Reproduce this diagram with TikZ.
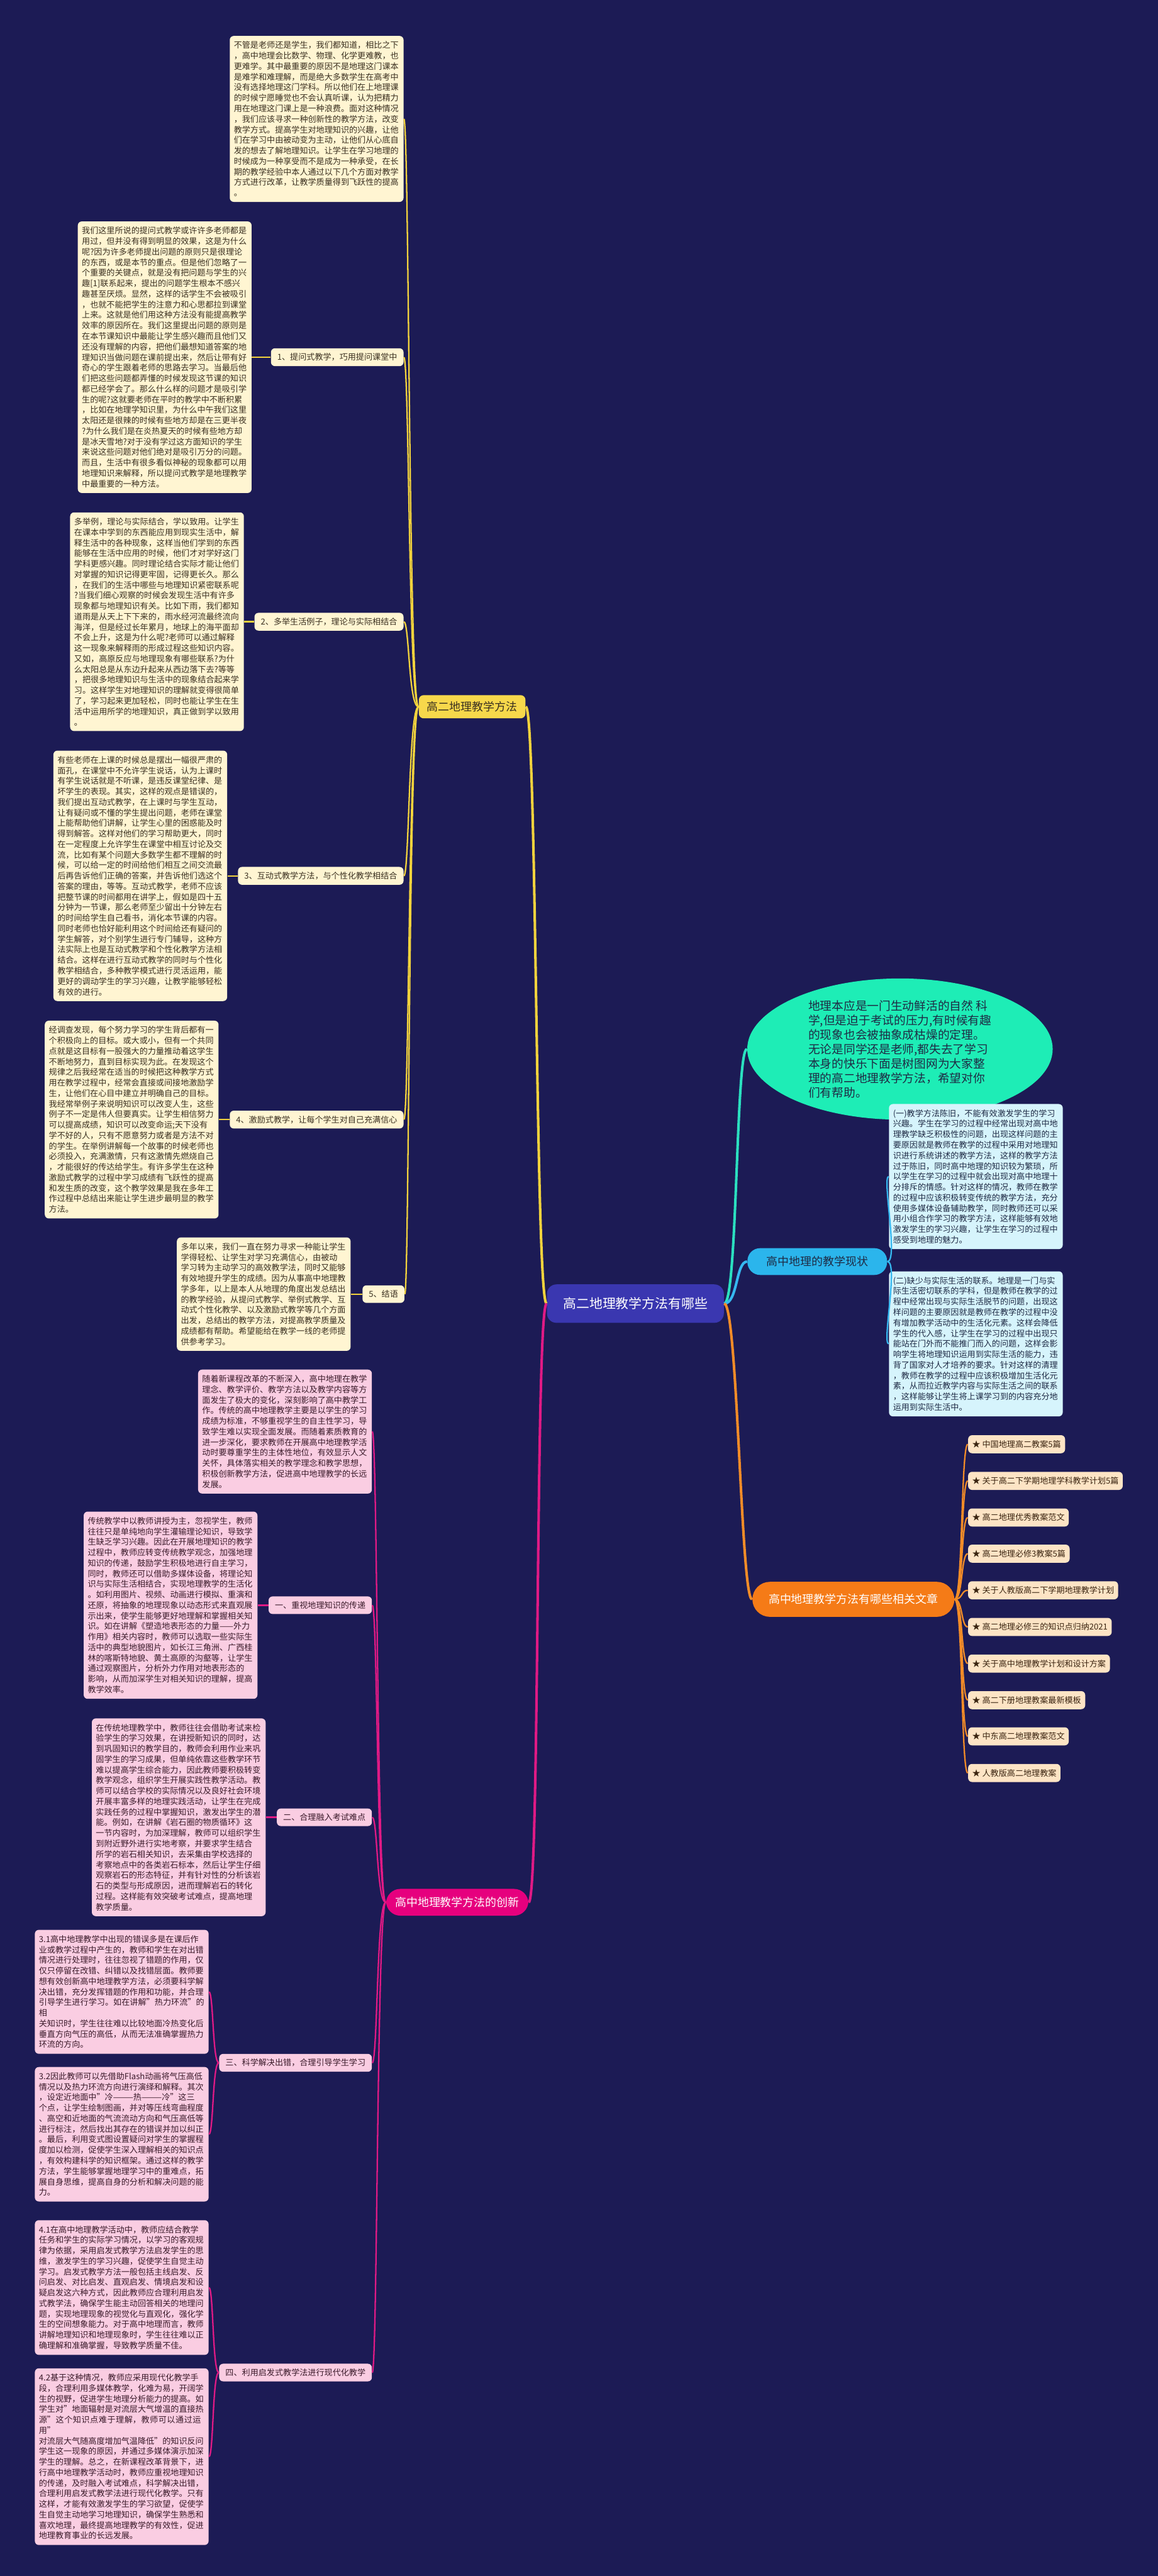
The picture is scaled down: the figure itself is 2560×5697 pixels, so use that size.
\documentclass[tikz,border=0pt]{standalone}
\usepackage{fontspec}
\setmainfont{Noto Sans CJK SC}
\usetikzlibrary{positioning, shapes.geometric}
\XeTeXlinebreaklocale "zh"
\XeTeXlinebreakskip = 0pt plus 1pt
\definecolor{bgNavy}{HTML}{1C1B55}
\definecolor{rootBlue}{HTML}{3A37B0}
\definecolor{yMain}{HTML}{F7D84B}
\definecolor{yLine}{HTML}{F2D33D}
\definecolor{yBox}{HTML}{FFF5D2}
\definecolor{yText}{HTML}{3A3020}
\definecolor{cMain}{HTML}{2BB5EC}
\definecolor{cLine}{HTML}{36B8F0}
\definecolor{cBox}{HTML}{D6F4FC}
\definecolor{cText}{HTML}{1E2A44}
\definecolor{gOval}{HTML}{1EEDB6}
\definecolor{gLine}{HTML}{2BE0C0}
\definecolor{oMain}{HTML}{F57B17}
\definecolor{oLine}{HTML}{F28C28}
\definecolor{oBox}{HTML}{FDE4C5}
\definecolor{oText}{HTML}{3A2410}
\definecolor{pMain}{HTML}{E6007E}
\definecolor{pLine}{HTML}{E01A85}
\definecolor{pBox}{HTML}{FACDE2}
\definecolor{pText}{HTML}{3A1A2A}
\newcommand{\txtfont}{\fontsize{5.18pt}{6.63pt}\selectfont}
\newcommand{\midfont}{\fontsize{7.1pt}{8.5pt}\selectfont}
\newcommand{\rootfont}{\fontsize{8.25pt}{9.9pt}\selectfont}
\newcommand{\ovalfont}{\fontsize{7.4pt}{9.1pt}\selectfont}

\begin{document}
\begin{tikzpicture}[x=0.01cm, y=-0.01cm,
    txtbox/.style={rounded corners=2.5pt, text width=3.66cm, inner xsep=0.09cm,
                   inner ysep=0.12cm, align=left, font=\txtfont},
    ybox/.style={txtbox, fill=yBox, text=yText},
    pbox/.style={txtbox, fill=pBox, text=pText},
    cbox/.style={txtbox, fill=cBox, text=cText},
    ylab/.style={rounded corners=2.5pt, fill=yBox, text=yText, font=\txtfont,
                 inner xsep=0.14cm, inner ysep=0.11cm},
    plab/.style={ylab, fill=pBox, text=pText},
    item/.style={rounded corners=2.5pt, fill=oBox, text=oText, font=\txtfont,
                 inner xsep=0.09cm, inner ysep=0.115cm},
    ylink/.style={draw=yLine, line width=0.9pt},
    plink/.style={draw=pLine, line width=0.9pt},
    clink/.style={draw=cLine, line width=0.9pt},
    olink/.style={draw=oLine, line width=0.9pt},
  ]
  \useasboundingbox (0,0) rectangle (2560,5697);
  \fill[bgNavy] (0,0) rectangle (2560,5697);

  % root
  \node[fill=rootBlue, text=white, font=\rootfont, rounded corners=6pt,
        inner xsep=0.36cm, inner ysep=0.29cm] (root) at (1405,2883) {高二地理教学方法有哪些};

  % 高二地理教学方法
  \node[fill=yMain, text=yText, font=\midfont, rounded corners=3pt,
        inner xsep=0.18cm, inner ysep=0.14cm] (mainY) at (1044,1563) {高二地理教学方法};

  \node[ybox, anchor=east] (intro) at (893,263) {不管是老师还是学生，我们都知道，相比之下\\
，高中地理会比数学、物理、化学更难教，也\\
更难学。其中最重要的原因不是地理这门课本\\
是难学和难理解，而是绝大多数学生在高考中\\
没有选择地理这门学科。所以他们在上地理课\\
的时候宁愿睡觉也不会认真听课，认为把精力\\
用在地理这门课上是一种浪费。面对这种情况\\
，我们应该寻求一种创新性的教学方法，改变\\
教学方式。提高学生对地理知识的兴趣，让他\\
们在学习中由被动变为主动，让他们从心底自\\
发的想去了解地理知识。让学生在学习地理的\\
时候成为一种享受而不是成为一种承受，在长\\
期的教学经验中本人通过以下几个方面对教学\\
方式进行改革，让教学质量得到飞跃性的提高\\
。};

  \node[ylab, anchor=east] (lab1) at (893,790) {1、提问式教学，巧用提问课堂中};
  \node[ybox, anchor=east] (box1) at (557,790) {我们这里所说的提问式教学或许许多老师都是\\
用过，但并没有得到明显的效果，这是为什么\\
呢?因为许多老师提出问题的原则只是很理论\\
的东西，或是本节的重点。但是他们忽略了一\\
个重要的关键点，就是没有把问题与学生的兴\\
趣[1]联系起来，提出的问题学生根本不感兴\\
趣甚至厌烦。显然，这样的话学生不会被吸引\\
，也就不能把学生的注意力和心思都拉到课堂\\
上来。这就是他们用这种方法没有能提高教学\\
效率的原因所在。我们这里提出问题的原则是\\
在本节课知识中最能让学生感兴趣而且他们又\\
还没有理解的内容，把他们最想知道答案的地\\
理知识当做问题在课前提出来，然后让带有好\\
奇心的学生跟着老师的思路去学习。当最后他\\
们把这些问题都弄懂的时候发现这节课的知识\\
都已经学会了。那么什么样的问题才是吸引学\\
生的呢?这就要老师在平时的教学中不断积累\\
，比如在地理学知识里，为什么中午我们这里\\
太阳还是很辣的时候有些地方却是在三更半夜\\
?为什么我们是在炎热夏天的时候有些地方却\\
是冰天雪地?对于没有学过这方面知识的学生\\
来说这些问题对他们绝对是吸引万分的问题。\\
而且，生活中有很多看似神秘的现象都可以用\\
地理知识来解释，所以提问式教学是地理教学\\
中最重要的一种方法。};

  \node[ylab, anchor=east] (lab2) at (893,1375) {2、多举生活例子，理论与实际相结合};
  \node[ybox, anchor=east] (box2) at (540,1375) {多举例，理论与实际结合，学以致用。让学生\\
在课本中学到的东西能应用到现实生活中，解\\
释生活中的各种现象，这样当他们学到的东西\\
能够在生活中应用的时候，他们才对学好这门\\
学科更感兴趣。同时理论结合实际才能让他们\\
对掌握的知识记得更牢固，记得更长久。那么\\
，在我们的生活中哪些与地理知识紧密联系呢\\
?当我们细心观察的时候会发现生活中有许多\\
现象都与地理知识有关。比如下雨，我们都知\\
道雨是从天上下下来的，雨水经河流最终流向\\
海洋，但是经过长年累月，地球上的海平面却\\
不会上升，这是为什么呢?老师可以通过解释\\
这一现象来解释雨的形成过程这些知识内容。\\
又如，高原反应与地理现象有哪些联系?为什\\
么太阳总是从东边升起来从西边落下去?等等\\
，把很多地理知识与生活中的现象结合起来学\\
习。这样学生对地理知识的理解就变得很简单\\
了，学习起来更加轻松，同时也能让学生在生\\
活中运用所学的地理知识，真正做到学以致用\\
。};

  \node[ylab, anchor=east] (lab3) at (893,1937) {3、互动式教学方法，与个性化教学相结合};
  \node[ybox, anchor=east] (box3) at (503,1937) {有些老师在上课的时候总是摆出一幅很严肃的\\
面孔，在课堂中不允许学生说话，认为上课时\\
有学生说话就是不听课，是违反课堂纪律、是\\
坏学生的表现。其实，这样的观点是错误的，\\
我们提出互动式教学，在上课时与学生互动，\\
让有疑问或不懂的学生提出问题，老师在课堂\\
上能帮助他们讲解，让学生心里的困惑能及时\\
得到解答。这样对他们的学习帮助更大，同时\\
在一定程度上允许学生在课堂中相互讨论及交\\
流，比如有某个问题大多数学生都不理解的时\\
候，可以给一定的时间给他们相互之间交流最\\
后再告诉他们正确的答案，并告诉他们选这个\\
答案的理由，等等。互动式教学，老师不应该\\
把整节课的时间都用在讲学上，假如是四十五\\
分钟为一节课，那么老师至少留出十分钟左右\\
的时间给学生自己看书，消化本节课的内容。\\
同时老师也恰好能利用这个时间给还有疑问的\\
学生解答，对个别学生进行专门辅导，这种方\\
法实际上也是互动式教学和个性化教学方法相\\
结合。这样在进行互动式教学的同时与个性化\\
教学相结合，多种教学模式进行灵活运用，能\\
更好的调动学生的学习兴趣，让教学能够轻松\\
有效的进行。};

  \node[ylab, anchor=east] (lab4) at (893,2476) {4、激励式教学，让每个学生对自己充满信心};
  \node[ybox, anchor=east] (box4) at (484,2476) {经调查发现，每个努力学习的学生背后都有一\\
个积极向上的目标。或大或小，但有一个共同\\
点就是这目标有一股强大的力量推动着这学生\\
不断地努力，直到目标实现为此。在发现这个\\
规律之后我经常在适当的时候把这种教学方式\\
用在教学过程中，经常会直接或间接地激励学\\
生，让他们在心目中建立并明确自己的目标。\\
我经常举例子来说明知识可以改变人生，这些\\
例子不一定是伟人但要真实。让学生相信努力\\
可以提高成绩，知识可以改变命运;天下没有\\
学不好的人，只有不愿意努力或者是方法不对\\
的学生。在举例讲解每一个故事的时候老师也\\
必须投入，充满激情，只有这激情先燃烧自己\\
，才能很好的传达给学生。有许多学生在这种\\
激励式教学的过程中学习成绩有飞跃性的提高\\
和发生质的改变，这个教学效果是我在多年工\\
作过程中总结出来能让学生进步最明显的教学\\
方法。};

  \node[ylab, anchor=east] (lab5) at (895,2862) {5、结语};
  \node[ybox, anchor=east] (box5) at (776,2862) {多年以来，我们一直在努力寻求一种能让学生\\
学得轻松、让学生对学习充满信心，由被动\\
学习转为主动学习的高效教学法，同时又能够\\
有效地提升学生的成绩。因为从事高中地理教\\
学多年，以上是本人从地理的角度出发总结出\\
的教学经验，从提问式教学、举例式教学、互\\
动式个性化教学、以及激励式教学等几个方面\\
出发，总结出的教学方法，对提高教学质量及\\
成绩都有帮助。希望能给在教学一线的老师提\\
供参考学习。};

  % 树干 (yellow)
  \draw[yLine, line width=1.6pt] (root.west) .. controls +(-25,0) and +(25,0) .. (mainY.east);
  \draw[ylink] (mainY.west) .. controls +(-22,0) and +(12,0) .. (intro.east);
  \draw[ylink] (mainY.west) .. controls +(-22,0) and +(12,0) .. (lab1.east);
  \draw[ylink] (mainY.west) .. controls +(-22,0) and +(12,0) .. (lab2.east);
  \draw[ylink] (mainY.west) .. controls +(-22,0) and +(12,0) .. (lab3.east);
  \draw[ylink] (mainY.west) .. controls +(-22,0) and +(12,0) .. (lab4.east);
  \draw[ylink] (mainY.west) .. controls +(-22,0) and +(10,0) .. (lab5.east);
  \draw[ylink] (lab1.west) -- (box1.east);
  \draw[ylink] (lab2.west) -- (box2.east);
  \draw[ylink] (lab3.west) -- (box3.east);
  \draw[ylink] (lab4.west) -- (box4.east);
  \draw[ylink] (lab5.west) -- (box5.east);

  % right side
  \node[ellipse, fill=gOval, text=cText, font=\ovalfont, align=left, inner sep=0pt,
        minimum width=6.75cm, minimum height=3.12cm] (oval) at (1990,2320) {地理本应是一门生动鲜活的自然 科\\
学,但是迫于考试的压力,有时候有趣\\
的现象也会被抽象成枯燥的定理。\\
无论是同学还是老师,都失去了学习\\
本身的快乐下面是树图网为大家整\\
理的高二地理教学方法，希望对你\\
们有帮助。};
  \draw[gLine, line width=1.6pt] (root.east) .. controls +(30,0) and +(-25,0) .. (oval.west);

  \node[fill=cMain, text=cText, font=\midfont, rounded corners=8pt, anchor=west,
        inner xsep=0.42cm, inner ysep=0.18cm] (state) at (1652,2790) {高中地理的教学现状};
  \draw[cLine, line width=1.6pt] (root.east) .. controls +(30,0) and +(-25,0) .. (state.west);
  \node[cbox, anchor=west] (boxA) at (1965,2602) {(一)教学方法陈旧，不能有效激发学生的学习\\
兴趣。学生在学习的过程中经常出现对高中地\\
理教学缺乏积极性的问题，出现这样问题的主\\
要原因就是教师在教学的过程中采用对地理知\\
识进行系统讲述的教学方法，这样的教学方法\\
过于陈旧，同时高中地理的知识较为繁琐，所\\
以学生在学习的过程中就会出现对高中地理十\\
分排斥的情感。针对这样的情况，教师在教学\\
的过程中应该积极转变传统的教学方法，充分\\
使用多媒体设备辅助教学，同时教师还可以采\\
用小组合作学习的教学方法，这样能够有效地\\
激发学生的学习兴趣，让学生在学习的过程中\\
感受到地理的魅力。};
  \node[cbox, anchor=west] (boxB) at (1965,2972) {(二)缺少与实际生活的联系。地理是一门与实\\
际生活密切联系的学科，但是教师在教学的过\\
程中经常出现与实际生活脱节的问题，出现这\\
样问题的主要原因就是教师在教学的过程中没\\
有增加教学活动中的生活化元素。这样会降低\\
学生的代入感，让学生在学习的过程中出现只\\
能站在门外而不能推门而入的问题，这样会影\\
响学生将地理知识运用到实际生活的能力，违\\
背了国家对人才培养的要求。针对这样的清理\\
，教师在教学的过程中应该积极增加生活化元\\
素，从而拉近教学内容与实际生活之间的联系\\
，这样能够让学生将上课学习到的内容充分地\\
运用到实际生活中。};
  \draw[clink] (state.east) .. controls +(25,0) and +(-15,0) .. (boxA.west);
  \draw[clink] (state.east) .. controls +(25,0) and +(-15,0) .. (boxB.west);

  % 相关文章
  \node[fill=oMain, text=white, font=\midfont, rounded corners=11pt, anchor=west,
        inner xsep=0.36cm, inner ysep=0.27cm] (art) at (1663,3537) {高中地理教学方法有哪些相关文章};
  \draw[oLine, line width=1.6pt] (root.east) .. controls +(30,0) and +(-25,0) .. (art.west);
  \node[item, anchor=west] (a1) at (2140,3194) {★ 中国地理高二教案5篇};
  \node[item, anchor=west] (a2) at (2140,3275) {★ 关于高二下学期地理学科教学计划5篇};
  \node[item, anchor=west] (a3) at (2140,3356) {★ 高二地理优秀教案范文};
  \node[item, anchor=west] (a4) at (2140,3436) {★ 高二地理必修3教案5篇};
  \node[item, anchor=west] (a5) at (2140,3517) {★ 关于人教版高二下学期地理教学计划};
  \node[item, anchor=west] (a6) at (2140,3598) {★ 高二地理必修三的知识点归纳2021};
  \node[item, anchor=west] (a7) at (2140,3679) {★ 关于高中地理教学计划和设计方案};
  \node[item, anchor=west] (a8) at (2140,3760) {★ 高二下册地理教案最新模板};
  \node[item, anchor=west] (a9) at (2140,3840) {★ 中东高二地理教案范文};
  \node[item, anchor=west] (a10) at (2140,3921) {★ 人教版高二地理教案};
  \draw[olink] (art.east) .. controls +(18,0) and +(-15,0) .. (a1.west);
  \draw[olink] (art.east) .. controls +(18,0) and +(-15,0) .. (a2.west);
  \draw[olink] (art.east) .. controls +(18,0) and +(-15,0) .. (a3.west);
  \draw[olink] (art.east) .. controls +(18,0) and +(-15,0) .. (a4.west);
  \draw[olink] (art.east) .. controls +(18,0) and +(-15,0) .. (a5.west);
  \draw[olink] (art.east) .. controls +(18,0) and +(-15,0) .. (a6.west);
  \draw[olink] (art.east) .. controls +(18,0) and +(-15,0) .. (a7.west);
  \draw[olink] (art.east) .. controls +(18,0) and +(-15,0) .. (a8.west);
  \draw[olink] (art.east) .. controls +(18,0) and +(-15,0) .. (a9.west);
  \draw[olink] (art.east) .. controls +(18,0) and +(-15,0) .. (a10.west);

  % 创新 (magenta)
  \node[fill=pMain, text=white, font=\midfont, rounded corners=9pt,
        inner xsep=0.2cm, inner ysep=0.18cm] (pinkN) at (1011,4207) {高中地理教学方法的创新};
  \draw[pLine, line width=1.6pt] (root.west) .. controls +(-25,0) and +(25,0) .. (pinkN.east);

  \node[pbox, anchor=east] (pA) at (823,3166) {随着新课程改革的不断深入，高中地理在教学\\
理念、教学评价、教学方法以及教学内容等方\\
面发生了极大的变化，深刻影响了高中教学工\\
作。传统的高中地理教学主要是以学生的学习\\
成绩为标准，不够重视学生的自主性学习，导\\
致学生难以实现全面发展。而随着素质教育的\\
进一步深化，要求教师在开展高中地理教学活\\
动时要尊重学生的主体性地位，有效显示人文\\
关怀，具体落实相关的教学理念和教学思想，\\
积极创新教学方法，促进高中地理教学的长远\\
发展。};

  \node[plab, anchor=east] (labI) at (823,3550) {一、重视地理知识的传递};
  \node[pbox, anchor=east] (boxI) at (570,3550) {传统教学中以教师讲授为主，忽视学生，教师\\
往往只是单纯地向学生灌输理论知识，导致学\\
生缺乏学习兴趣。因此在开展地理知识的教学\\
过程中，教师应转变传统教学观念，加强地理\\
知识的传递，鼓励学生积极地进行自主学习，\\
同时，教师还可以借助多媒体设备，将理论知\\
识与实际生活相结合，实现地理教学的生活化\\
。如利用图片、视频、动画进行模拟、重演和\\
还原，将抽象的地理现象以动态形式来直观展\\
示出来，使学生能够更好地理解和掌握相关知\\
识。如在讲解《塑造地表形态的力量——外力\\
作用》相关内容时，教师可以选取一些实际生\\
活中的典型地貌图片，如长江三角洲、广西桂\\
林的喀斯特地貌、黄土高原的沟壑等，让学生\\
通过观察图片，分析外力作用对地表形态的\\
影响，从而加深学生对相关知识的理解，提高\\
教学效率。};

  \node[plab, anchor=east] (labII) at (823,4019) {二、合理融入考试难点};
  \node[pbox, anchor=east] (boxII) at (588,4019) {在传统地理教学中，教师往往会借助考试来检\\
验学生的学习效果，在讲授新知识的同时，达\\
到巩固知识的教学目的，教师会利用作业来巩\\
固学生的学习成果，但单纯依靠这些教学环节\\
难以提高学生综合能力，因此教师要积极转变\\
教学观念，组织学生开展实践性教学活动。教\\
师可以结合学校的实际情况以及良好社会环境\\
开展丰富多样的地理实践活动，让学生在完成\\
实践任务的过程中掌握知识，激发出学生的潜\\
能。例如，在讲解《岩石圈的物质循环》这\\
一节内容时，为加深理解，教师可以组织学生\\
到附近野外进行实地考察，并要求学生结合\\
所学的岩石相关知识，去采集由学校选择的\\
考察地点中的各类岩石标本，然后让学生仔细\\
观察岩石的形态特征，并有针对性的分析该岩\\
石的类型与形成原因，进而理解岩石的转化\\
过程。这样能有效突破考试难点，提高地理\\
教学质量。};

  \node[plab, anchor=east] (labIII) at (823,4562) {三、科学解决出错，合理引导学生学习};
  \node[pbox, anchor=east] (box31) at (462,4405) {3.1高中地理教学中出现的错误多是在课后作\\
业或教学过程中产生的，教师和学生在对出错\\
情况进行处理时，往往忽视了错题的作用，仅\\
仅只停留在改错、纠错以及找错层面。教师要\\
想有效创新高中地理教学方法，必须要科学解\\
决出错，充分发挥错题的作用和功能，并合理\\
引导学生进行学习。如在讲解"热力环流"的相\\
关知识时，学生往往难以比较地面冷热变化后\\
垂直方向气压的高低，从而无法准确掌握热力\\
环流的方向。};
  \node[pbox, anchor=east] (box32) at (462,4720) {3.2因此教师可以先借助Flash动画将气压高低\\
情况以及热力环流方向进行演绎和解释。其次\\
，设定近地面中"冷———热———冷"这三\\
个点，让学生绘制图画，并对等压线弯曲程度\\
、高空和近地面的气流流动方向和气压高低等\\
进行标注，然后找出其存在的错误并加以纠正\\
。最后，利用变式图设置疑问对学生的掌握程\\
度加以检测，促使学生深入理解相关的知识点\\
，有效构建科学的知识框架。通过这样的教学\\
方法，学生能够掌握地理学习中的重难点，拓\\
展自身思维，提高自身的分析和解决问题的能\\
力。};

  \node[plab, anchor=east] (labIV) at (823,5247) {四、利用启发式教学法进行现代化教学};
  \node[pbox, anchor=east] (box41) at (462,5059) {4.1在高中地理教学活动中，教师应结合教学\\
任务和学生的实际学习情况，以学习的客观规\\
律为依据，采用启发式教学方法启发学生的思\\
维，激发学生的学习兴趣，促使学生自觉主动\\
学习。启发式教学方法一般包括主线启发、反\\
问启发、对比启发、直观启发、情境启发和设\\
疑启发这六种方式，因此教师应合理利用启发\\
式教学法，确保学生能主动回答相关的地理问\\
题，实现地理现象的视觉化与直观化，强化学\\
生的空间想象能力。对于高中地理而言，教师\\
讲解地理知识和地理现象时，学生往往难以正\\
确理解和准确掌握，导致教学质量不佳。};
  \node[pbox, anchor=east] (box42) at (462,5433) {4.2基于这种情况，教师应采用现代化教学手\\
段，合理利用多媒体教学，化难为易，开阔学\\
生的视野，促进学生地理分析能力的提高。如\\
学生对"地面辐射是对流层大气增温的直接热\\
源"这个知识点难于理解，教师可以通过运用"\\
对流层大气随高度增加气温降低"的知识反问\\
学生这一现象的原因，并通过多媒体演示加深\\
学生的理解。总之，在新课程改革背景下，进\\
行高中地理教学活动时，教师应重视地理知识\\
的传递，及时融入考试难点，科学解决出错，\\
合理利用启发式教学法进行现代化教学。只有\\
这样，才能有效激发学生的学习欲望，促使学\\
生自觉主动地学习地理知识，确保学生熟悉和\\
喜欢地理，最终提高地理教学的有效性，促进\\
地理教育事业的长远发展。};

  \draw[plink] (pinkN.west) .. controls +(-20,0) and +(12,0) .. (pA.east);
  \draw[plink] (pinkN.west) .. controls +(-20,0) and +(12,0) .. (labI.east);
  \draw[plink] (pinkN.west) .. controls +(-20,0) and +(12,0) .. (labII.east);
  \draw[plink] (pinkN.west) .. controls +(-20,0) and +(12,0) .. (labIII.east);
  \draw[plink] (pinkN.west) .. controls +(-20,0) and +(12,0) .. (labIV.east);
  \draw[plink] (labI.west) -- (boxI.east);
  \draw[plink] (labII.west) -- (boxII.east);
  \draw[plink] (labIII.west) .. controls +(-14,0) and +(10,0) .. (box31.east);
  \draw[plink] (labIII.west) .. controls +(-14,0) and +(10,0) .. (box32.east);
  \draw[plink] (labIV.west) .. controls +(-14,0) and +(10,0) .. (box41.east);
  \draw[plink] (labIV.west) .. controls +(-14,0) and +(10,0) .. (box42.east);
\end{tikzpicture}
\end{document}
